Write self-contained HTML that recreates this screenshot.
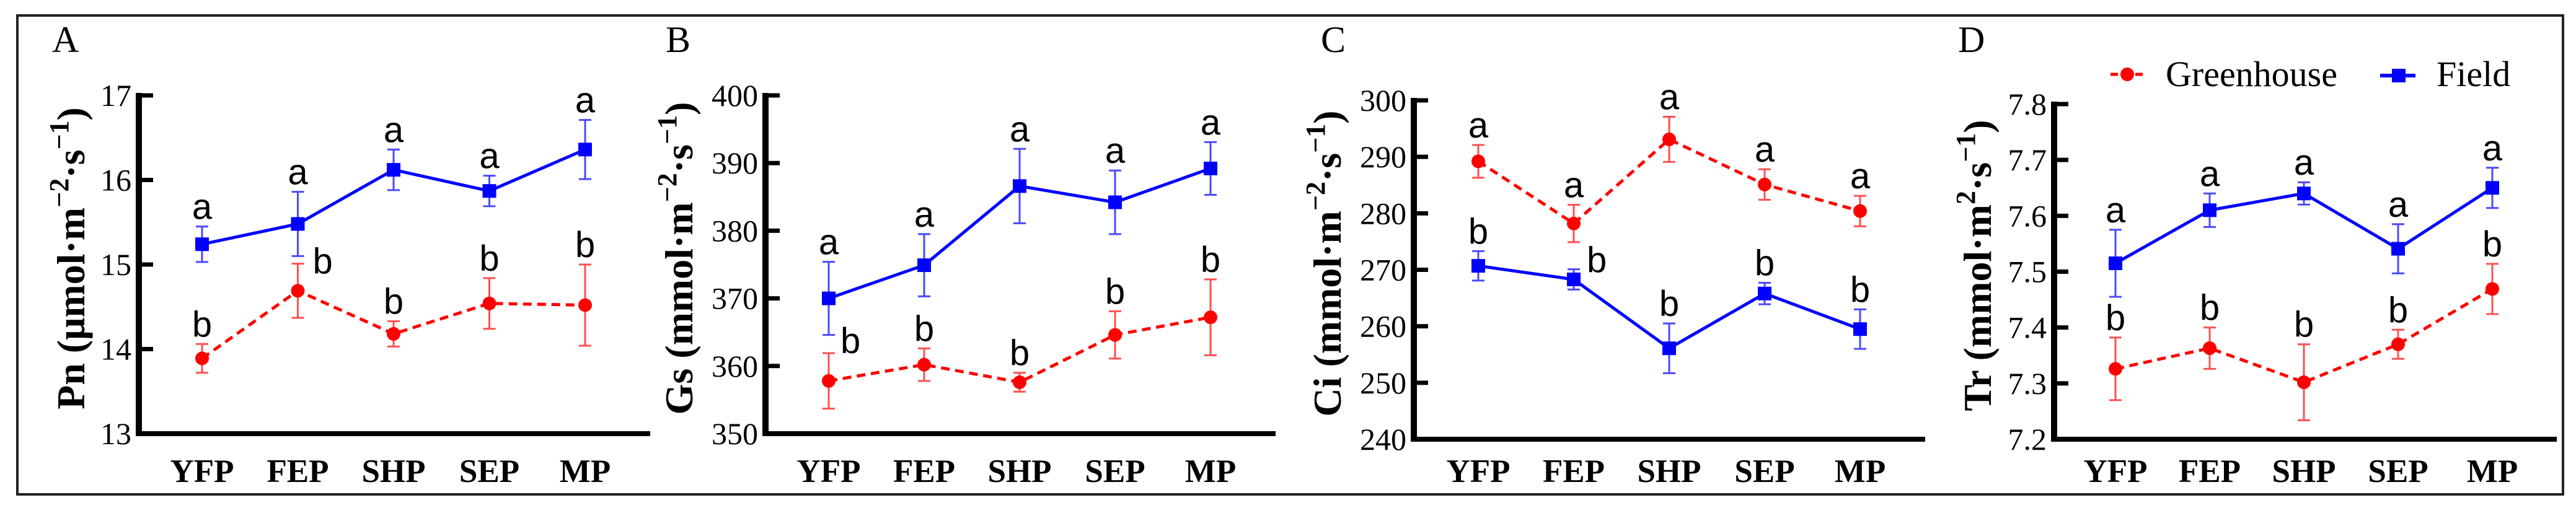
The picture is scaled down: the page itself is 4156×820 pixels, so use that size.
<!DOCTYPE html>
<html><head><meta charset="utf-8"><style>
html,body{margin:0;padding:0;background:#fff;}
svg{display:block;}
</style></head><body>
<svg id="fig" width="4156" height="820" viewBox="0 0 4156 820" xmlns="http://www.w3.org/2000/svg">
<rect x="28" y="25" width="4107" height="773" fill="none" stroke="#222" stroke-width="4"/>
<g>
  <line x1="3405" y1="120" x2="3462" y2="120" stroke="#f00" stroke-width="5" stroke-dasharray="12,8"/>
  <circle cx="3432" cy="120" r="11" fill="#f00"/>
  <text x="3494" y="139" font-family="Liberation Serif, serif" font-size="58">Greenhouse</text>
  <line x1="3840" y1="122" x2="3897" y2="122" stroke="#00f" stroke-width="6"/>
  <rect x="3859" y="111" width="22" height="22" fill="#00f"/>
  <text x="3931" y="139" font-family="Liberation Serif, serif" font-size="58">Field</text>
</g>
</svg>
<script>
const categories = ["YFP","FEP","SHP","SEP","MP"];
// Panel A: Pn
const pnField = [15.24, 15.48, 16.12, 15.87, 16.36];
const pnFieldErr = [0.21, 0.38, 0.24, 0.18, 0.35];
const pnGreen = [13.89, 14.69, 14.18, 14.54, 14.52];
const pnGreenErr = [0.17, 0.32, 0.15, 0.30, 0.48];
const pnTicks = [13, 14, 15, 16, 17];
const pnFieldLetters = ["a","a","a","a","a"];
const pnGreenLetters = ["b","b","b","b","b"];
// Panel B: Gs
const gsField = [370.0, 374.9, 386.6, 384.2, 389.2];
const gsFieldErr = [5.4, 4.6, 5.5, 4.7, 3.9];
const gsGreen = [357.8, 360.2, 357.6, 364.6, 367.2];
const gsGreenErr = [4.1, 2.4, 1.4, 3.5, 5.6];
const gsTicks = [350, 360, 370, 380, 390, 400];
const gsFieldLetters = ["a","a","a","a","a"];
const gsGreenLetters = ["b","b","b","b","b"];
// Panel C: Ci
const ciField = [270.7, 268.3, 256.1, 265.8, 259.5];
const ciFieldErr = [2.6, 1.8, 4.4, 1.9, 3.5];
const ciGreen = [289.2, 278.2, 293.1, 285.1, 280.4];
const ciGreenErr = [2.9, 3.3, 4.0, 2.7, 2.7];
const ciTicks = [240, 250, 260, 270, 280, 290, 300];
const ciFieldLetters = ["b","b","b","b","b"];
const ciGreenLetters = ["a","a","a","a","a"];
// Panel D: Tr
const trField = [7.515, 7.610, 7.640, 7.541, 7.650];
const trFieldErr = [0.060, 0.030, 0.020, 0.044, 0.036];
const trGreen = [7.326, 7.363, 7.302, 7.370, 7.469];
const trGreenErr = [0.056, 0.037, 0.068, 0.026, 0.045];
const trTicks = [7.2, 7.3, 7.4, 7.5, 7.6, 7.7, 7.8];
const trTickLabels = ["7.2","7.3","7.4","7.5","7.6","7.7","7.8"];
const trFieldLetters = ["a","a","a","a","a"];
const trGreenLetters = ["b","b","b","b","b"];

const NS = "http://www.w3.org/2000/svg";
const svg = document.getElementById("fig");
function mk(tag, attrs, parent){
  const e = document.createElementNS(NS, tag);
  for (const k in attrs) e.setAttribute(k, attrs[k]);
  (parent||svg).appendChild(e);
  return e;
}
const panels = [
  {id:"a", letter:"A", lx:84, ax:224, x0:326, step:154.5, xend:1049, top:154, bot:700, titleX:114,
   title:["Pn (μmol·m","−2","·s","−1",")"], ticks:pnTicks, labels:pnTicks.map(String),
   f:pnField, fe:pnFieldErr, g:pnGreen, ge:pnGreenErr, fl:pnFieldLetters, gl:pnGreenLetters,
   goff:{1:[36,16]}, foff:{}},
  {id:"b", letter:"B", lx:1074, ax:1235, x0:1337, step:154, xend:2058, top:154, bot:700, titleX:1095,
   title:["Gs  (mmol·m","−2","·s","−1",")"], ticks:gsTicks, labels:gsTicks.map(String),
   f:gsField, fe:gsFieldErr, g:gsGreen, ge:gsGreenErr, fl:gsFieldLetters, gl:gsGreenLetters,
   goff:{0:[31,0]}, foff:{}},
  {id:"c", letter:"C", lx:2131, ax:2281, x0:2385, step:154, xend:3106, top:162, bot:709, titleX:2141,
   title:["Ci (mmol·m","−2","·s","−1",")"], ticks:ciTicks, labels:ciTicks.map(String),
   f:ciField, fe:ciFieldErr, g:ciGreen, ge:ciGreenErr, fl:ciFieldLetters, gl:ciGreenLetters,
   goff:{}, foff:{1:[33,5]}},
  {id:"d", letter:"D", lx:3159, ax:3314, x0:3413, step:152, xend:4125, top:168, bot:709, titleX:3190,
   title:["Tr  (mmol·m","2","·s","−1",")"], ticks:trTicks, labels:trTickLabels,
   f:trField, fe:trFieldErr, g:trGreen, ge:trGreenErr, fl:trFieldLetters, gl:trGreenLetters,
   goff:{}, foff:{}}
];
panels.forEach(p=>{
  const g = mk("g", {});
  
  
  const lo = p.ticks[0], hi = p.ticks[p.ticks.length-1];
  const y = v => p.bot - (v - lo) / (hi - lo) * (p.bot - p.top);
  const x = i => p.x0 + i * p.step;
  const pl = mk("text", {x:p.lx, y:84, "font-family":"Liberation Serif, serif", "font-size":60}, g);
  pl.textContent = p.letter;
  
  
  // axes
  const ya = mk("line", {x1:p.ax, y1:p.top-4, x2:p.ax, y2:p.bot+4, stroke:"#000", "stroke-width":10}, g);
  
  
  const xa = mk("line", {x1:p.ax-5, y1:p.bot, x2:p.xend, y2:p.bot, stroke:"#000", "stroke-width":8}, g);
  
  
  p.ticks.forEach((t,i)=>{
    const tk = mk("line", {x1:p.ax, y1:y(t), x2:p.ax+23, y2:y(t), stroke:"#000", "stroke-width":7}, g);
    
    
    const tl = mk("text", {x:p.ax-12, y:y(t)+17, "text-anchor":"end", "font-family":"Liberation Serif, serif", "font-size":50}, g);
    tl.textContent = p.labels[i];
    
    
  });
  categories.forEach((c,i)=>{
    const cl = mk("text", {x:x(i), y:778, "text-anchor":"middle", "font-family":"Liberation Serif, serif", "font-weight":"bold", "font-size":53}, g);
    cl.textContent = c;
    
    
  });
  // y title
  const cy = (p.top + p.bot)/2 - 10;
  const tt = mk("text", {x:0, y:0, transform:`translate(${p.titleX+22},${cy}) rotate(-90)`, "text-anchor":"middle", "font-family":"Liberation Serif, serif", "font-weight":"bold", "font-size":64}, g);
  
  
  p.title.forEach((s,k)=>{
    const ts = document.createElementNS(NS, "tspan");
    ts.textContent = s;
    if (k===1||k===3){ ts.setAttribute("dy","-26"); ts.setAttribute("font-size","44"); }
    if (k===2||k===4){ ts.setAttribute("dy","26"); }
    tt.appendChild(ts);
  });
  // series
  function series(vals, errs, letters, offs, color, light, isField){
    const sg = mk("g", {}, g);
    
    
    const pts = vals.map((v,i)=>x(i)+","+y(v)).join(" ");
    const ln = mk("polyline", {points:pts, fill:"none", stroke:color, "stroke-width":5, "stroke-dasharray": isField ? "none" : "14,9"}, sg);
    
    
    vals.forEach((v,i)=>{
      const xt = x(i), yt = y(v+errs[i]), yb = y(v-errs[i]);
      const eb = mk("path", {d:`M${xt},${yt}V${yb}M${xt-10},${yt}H${xt+10}M${xt-10},${yb}H${xt+10}`, stroke:light, "stroke-width":3, fill:"none"}, sg);
      
      
      let m;
      if (isField) m = mk("rect", {x:xt-11, y:y(v)-11, width:22, height:22, fill:color}, sg);
      else m = mk("circle", {cx:xt, cy:y(v), r:11, fill:color}, sg);
      
      
      const o = offs[i];
      const lt = mk("text", {x: o ? xt+o[0] : xt, y: o ? yt+o[1] : yt-12, "text-anchor": o ? "start" : "middle", "font-family":"Liberation Sans, sans-serif", "font-size":58}, sg);
      if (o) lt.setAttribute("x", xt + o[0] - 12);
      lt.textContent = letters[i];
      
      
    });
  }
  series(p.g, p.ge, p.gl, p.goff, "#ff0000", "#ff5050", false);
  series(p.f, p.fe, p.fl, p.foff, "#0000ff", "#4a4aff", true);
});
</script>
</body></html>
